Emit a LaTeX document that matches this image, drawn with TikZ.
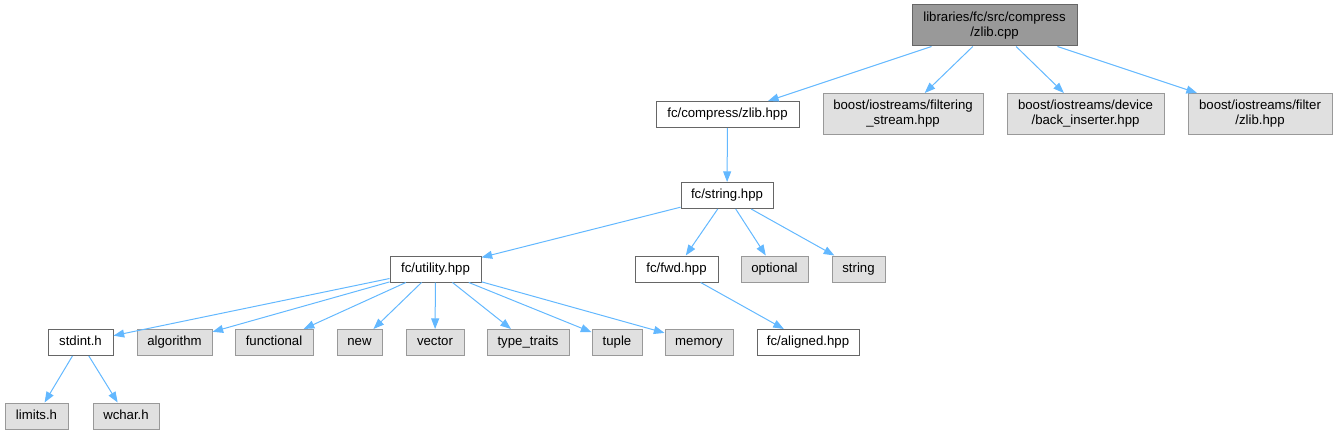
\documentclass[tikz,border=0pt]{standalone}
\usepackage{fontspec}
\setmainfont{Liberation Sans}
\usetikzlibrary{arrows.meta}
\definecolor{edgecol}{RGB}{99,184,255}
\definecolor{rootfill}{RGB}{153,153,153}
\definecolor{extfill}{RGB}{224,224,224}
\definecolor{extdraw}{RGB}{153,153,153}
\definecolor{filedraw}{RGB}{102,102,102}

\begin{document}
\begin{tikzpicture}[
    x=0.75pt, y=-0.75pt,
    font=\fontsize{9.9}{11.3}\selectfont,
    twobox/.style={draw=filedraw, fill=white, line width=0.75pt, inner sep=0pt,
                minimum height=30.75pt, minimum width=#1*0.75pt, align=center},
    box/.style={draw=filedraw, fill=white, line width=0.75pt, inner sep=0pt,
                minimum height=19.5pt, minimum width=#1*0.75pt,
                text height=7.2pt, text depth=2.1pt},
    rootbox/.style={twobox=#1, fill=rootfill},
    extbox/.style={box=#1, draw=extdraw, fill=extfill},
    exttwo/.style={twobox=#1, draw=extdraw, fill=extfill},
    dep/.style={-{Triangle[length=8pt, width=6pt]}, color=edgecol, line width=0.75pt},
]
\useasboundingbox (0,0) rectangle (1337,435);

% ---- Root ----
\node[rootbox=165] (root) at (994.5,25.5) {libraries/fc/src/compress\\/zlib.cpp};

% ---- Level 1 ----
\node[box=143] (zlibhpp) at (727.5,114.5) {fc/compress/zlib.hpp};
\node[exttwo=160] (filtering) at (903,114) {boost/iostreams/filtering\\\_stream.hpp};
\node[exttwo=157] (backins) at (1085.5,114) {boost/iostreams/device\\/back\_inserter.hpp};
\node[exttwo=144] (filterzlib) at (1260,114) {boost/iostreams/filter\\/zlib.hpp};

% ---- Level 2 ----
\node[box=92] (fcstring) at (727,195.5) {fc/string.hpp};

% ---- Level 3 ----
\node[box=91] (utility) at (435.5,269) {fc/utility.hpp};
\node[box=83] (fwd) at (676.5,269) {fc/fwd.hpp};
\node[extbox=67] (optional) at (774.5,269) {optional};
\node[extbox=53] (stdstring) at (858.5,269) {string};

% ---- Level 4 ----
\node[box=65] (stdint) at (80.5,342.5) {stdint.h};
\node[extbox=75] (algorithm) at (174.5,342.5) {algorithm};
\node[extbox=78] (functional) at (274,342.5) {functional};
\node[extbox=45] (new) at (359.5,342.5) {new};
\node[extbox=58] (vector) at (435,342.5) {vector};
\node[extbox=82] (typetraits) at (528,342.5) {type\_traits};
\node[extbox=50] (tuple) at (617,342.5) {tuple};
\node[extbox=68] (memory) at (699,342.5) {memory};
\node[box=102] (aligned) at (808,342.5) {fc/aligned.hpp};

% ---- Level 5 ----
\node[extbox=63] (limits) at (36.5,416) {limits.h};
\node[extbox=66] (wchar) at (126,416) {wchar.h};

% ---- Includes ----
\draw[dep] (root) -- (zlibhpp);
\draw[dep] (root) -- (filtering);
\draw[dep] (root) -- (backins);
\draw[dep] (root) -- (filterzlib);
\draw[dep] (zlibhpp) -- (fcstring);
\draw[dep] (fcstring) -- (utility);
\draw[dep] (fcstring) -- (fwd);
\draw[dep] (fcstring) -- (optional);
\draw[dep] (fcstring) -- (stdstring);
\draw[dep] (utility) -- (stdint);
\draw[dep] (utility) -- (algorithm);
\draw[dep] (utility) -- (functional);
\draw[dep] (utility) -- (new);
\draw[dep] (utility) -- (vector);
\draw[dep] (utility) -- (typetraits);
\draw[dep] (utility) -- (tuple);
\draw[dep] (utility) -- (memory);
\draw[dep] (fwd) -- (aligned);
\draw[dep] (stdint) -- (limits);
\draw[dep] (stdint) -- (wchar);

\end{tikzpicture}
\end{document}
